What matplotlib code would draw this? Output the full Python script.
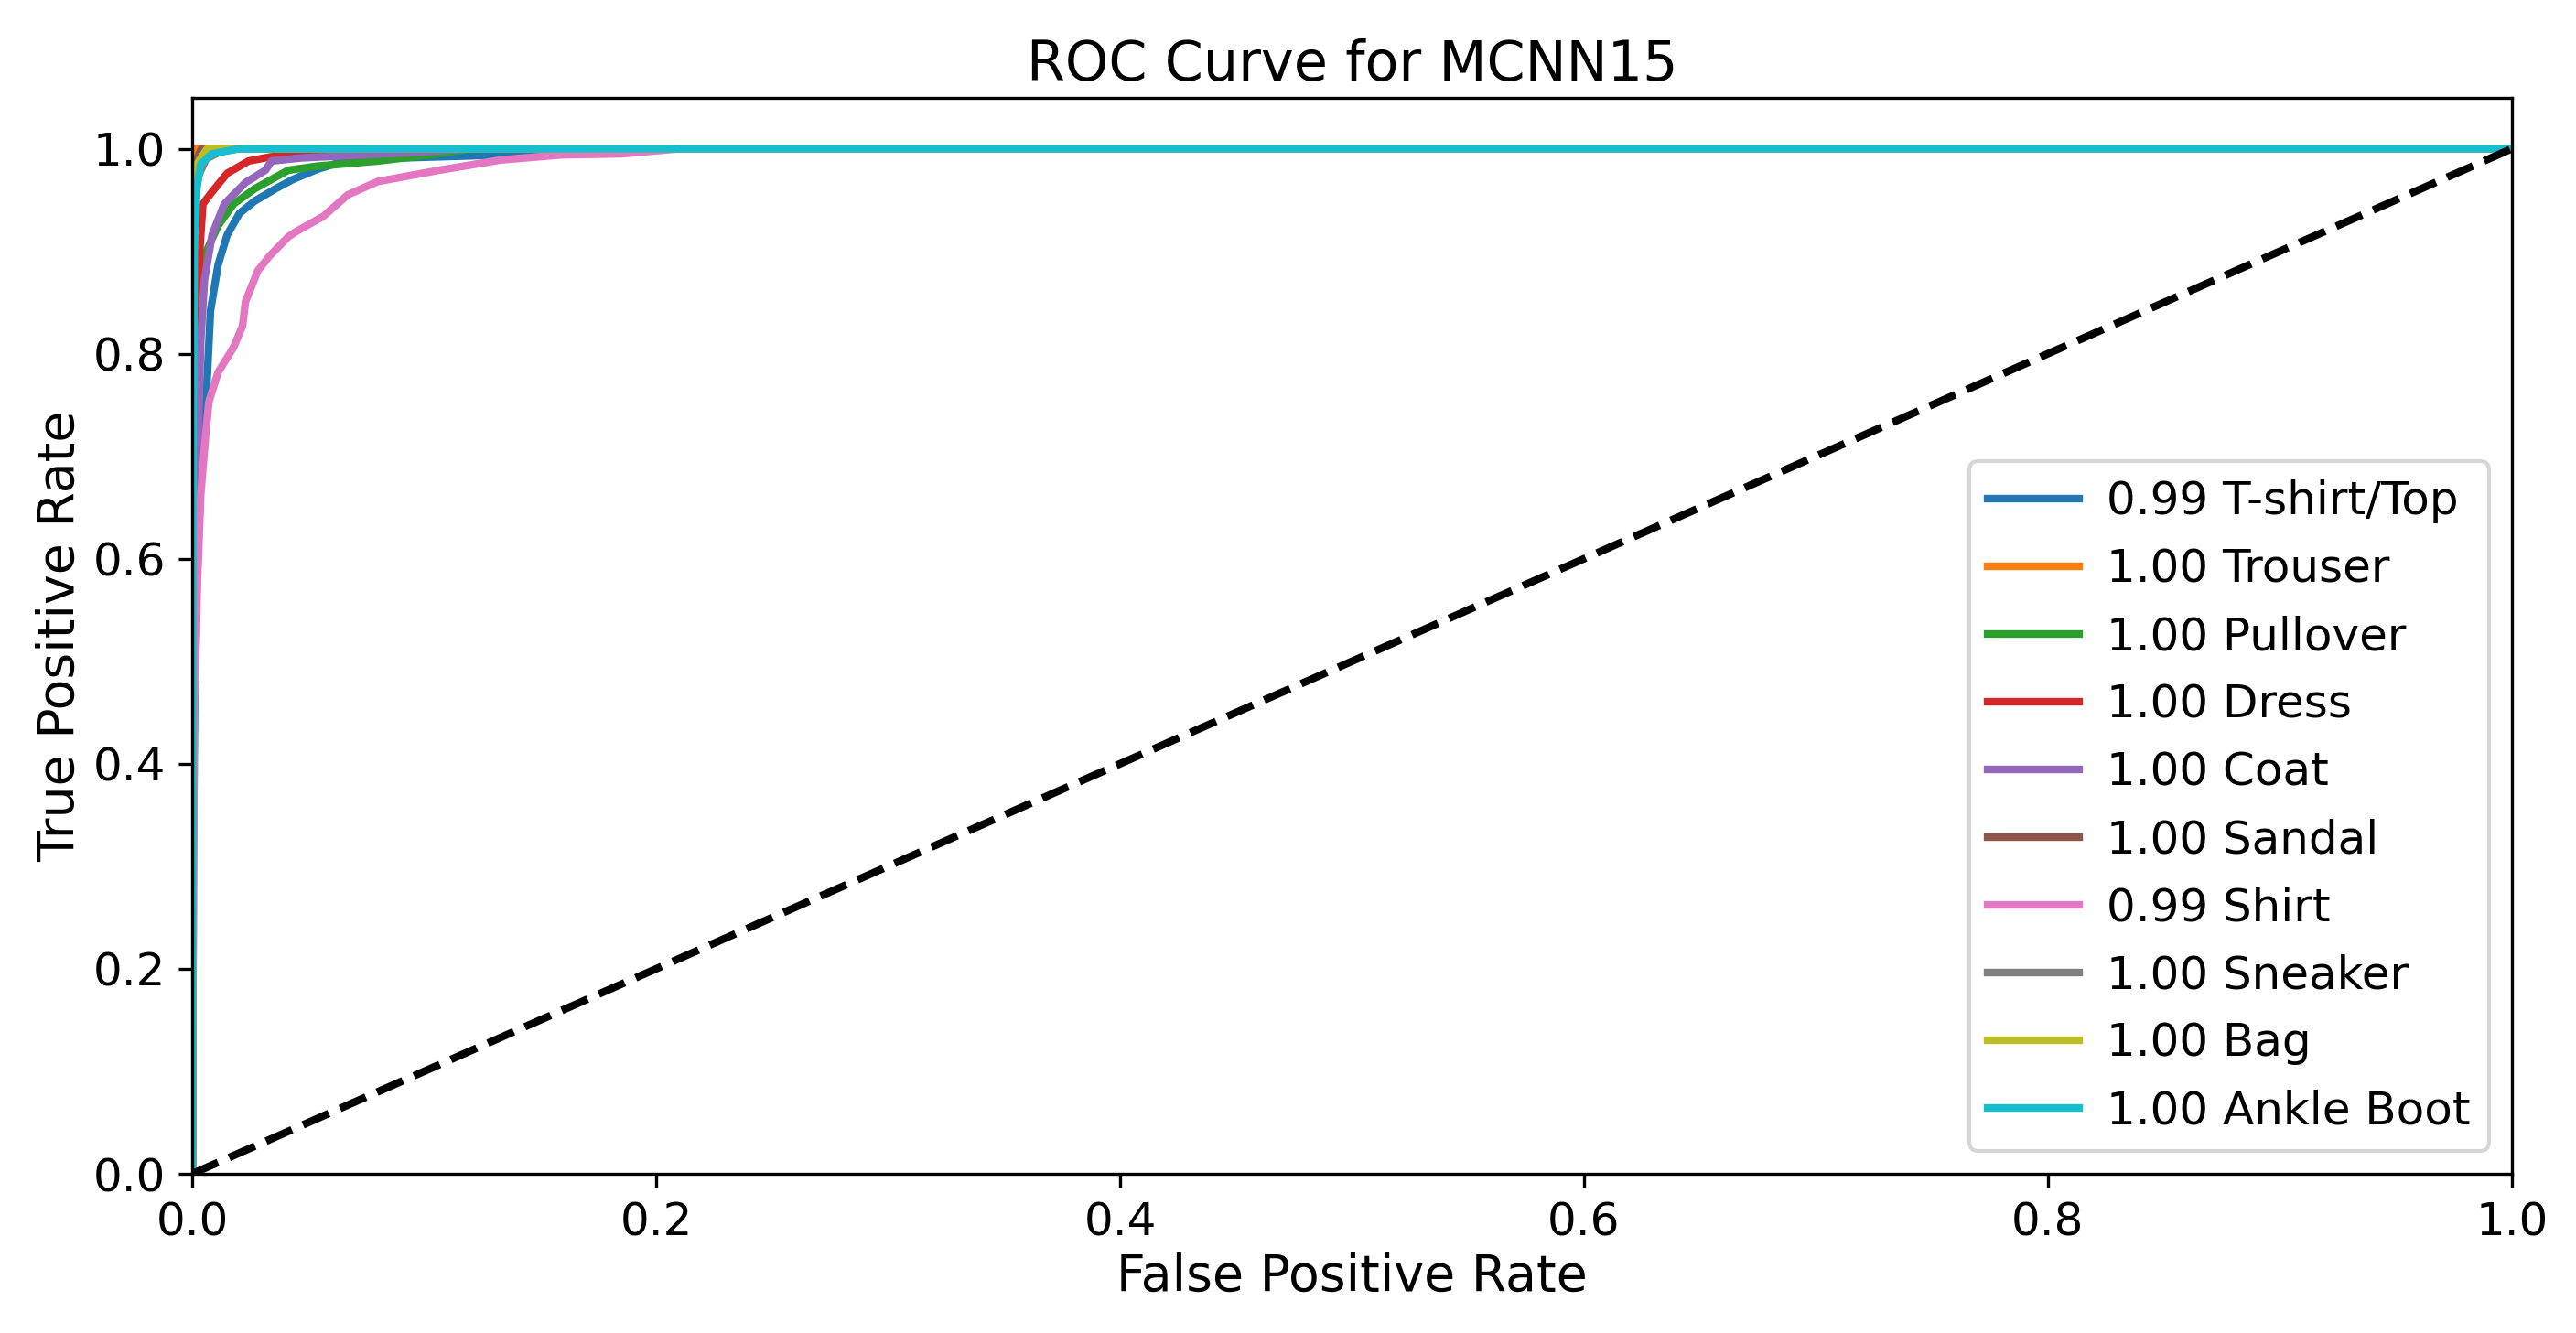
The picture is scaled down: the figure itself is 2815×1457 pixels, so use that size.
import matplotlib
matplotlib.use('Agg')
import matplotlib.pyplot as plt

# class names and AUC values shown in the legend
classNames = ['T-shirt/Top', 'Trouser', 'Pullover', 'Dress', 'Coat',
              'Sandal', 'Shirt', 'Sneaker', 'Bag', 'Ankle Boot']
aucs = [0.99, 1.00, 1.00, 1.00, 1.00, 1.00, 0.99, 1.00, 1.00, 1.00]

# ROC points, one pair of lists per class
fprTshirt = [0, 0.0005, 0.001, 0.002, 0.0037, 0.0053, 0.0066, 0.0079, 0.0112, 0.0151, 0.0204,
             0.027, 0.036, 0.0434, 0.054, 0.067, 0.09, 0.12, 0.146, 0.16, 1.0]
tprTshirt = [0, 0.3, 0.45, 0.574, 0.68, 0.723, 0.782, 0.842, 0.887, 0.916, 0.937,
             0.949, 0.961, 0.970, 0.980, 0.989, 0.991, 0.993, 0.995, 1.0, 1.0]

fprTrouser = [0, 0.0002, 0.0006, 0.0012, 1.0]
tprTrouser = [0, 0.9, 0.98, 1.0, 1.0]

fprPullover = [0, 0.0005, 0.0015, 0.0037, 0.0053, 0.0112, 0.0178, 0.027, 0.0414, 0.054,
               0.080, 0.1026, 0.12, 1.0]
tprPullover = [0, 0.5, 0.7, 0.842, 0.896, 0.925, 0.946, 0.961, 0.979, 0.983,
               0.988, 0.994, 1.0, 1.0]

fprDress = [0, 0.0005, 0.0015, 0.0022, 0.0033, 0.0046, 0.0086, 0.0151, 0.0243, 0.0336,
            0.0414, 0.067, 0.08, 1.0]
tprDress = [0, 0.5, 0.7, 0.8125, 0.902, 0.946, 0.958, 0.976, 0.988, 0.992,
            0.994, 0.995, 1.0, 1.0]

fprCoat = [0, 0.0005, 0.0015, 0.0026, 0.0037, 0.0053, 0.0086, 0.0138, 0.023, 0.0316,
           0.0342, 0.047, 0.0736, 0.10, 0.12, 1.0]
tprCoat = [0, 0.45, 0.62, 0.723, 0.8125, 0.872, 0.916, 0.946, 0.967, 0.979,
           0.988, 0.991, 0.994, 0.997, 1.0, 1.0]

fprSandal = [0, 0.0003, 0.001, 0.002, 0.004, 1.0]
tprSandal = [0, 0.85, 0.95, 0.99, 1.0, 1.0]

fprShirt = [0, 0.0008, 0.0015, 0.0022, 0.0037, 0.0059, 0.0072, 0.0112, 0.0178, 0.0217,
            0.023, 0.0283, 0.0336, 0.0414, 0.0447, 0.0565, 0.0671, 0.080, 0.1065, 0.133,
            0.159, 0.185, 0.21, 1.0]
tprShirt = [0, 0.45, 0.50, 0.574, 0.663, 0.723, 0.753, 0.782, 0.806, 0.827,
            0.851, 0.881, 0.896, 0.914, 0.919, 0.934, 0.955, 0.968, 0.979, 0.989,
            0.994, 0.995, 1.0, 1.0]

fprSneaker = [0, 0.0003, 0.0005, 0.002, 0.006, 0.012, 0.02, 1.0]
tprSneaker = [0, 0.8, 0.92, 0.97, 0.99, 0.997, 1.0, 1.0]

fprBag = [0, 0.0002, 0.0004, 0.002, 0.0065, 1.0]
tprBag = [0, 0.9, 0.96, 0.985, 1.0, 1.0]

fprBoot = [0, 0.0003, 0.0009, 0.002, 0.0037, 0.0086, 0.02, 1.0]
tprBoot = [0, 0.7, 0.90, 0.961, 0.985, 0.995, 1.0, 1.0]

allFpr = [fprTshirt, fprTrouser, fprPullover, fprDress, fprCoat,
          fprSandal, fprShirt, fprSneaker, fprBag, fprBoot]
allTpr = [tprTshirt, tprTrouser, tprPullover, tprDress, tprCoat,
          tprSandal, tprShirt, tprSneaker, tprBag, tprBoot]

plt.rcParams['font.size'] = 12

fig = plt.figure(figsize=(2815/300, 1457/300), dpi=300)
ax = fig.add_axes((0.0746, 0.1194, 0.9005, 0.8075))

for i in range(len(classNames)):
    ax.plot(allFpr[i], allTpr[i], lw=2, label='%.2f %s' % (aucs[i], classNames[i]))

ax.plot([0, 1], [0, 1], 'k--', lw=2)
ax.set_xlim(0.0, 1.0)
ax.set_ylim(0.0, 1.05)
ax.set_xlabel('False Positive Rate', fontsize=13.3, labelpad=2)
ax.set_ylabel('True Positive Rate', fontsize=13.3, labelpad=2)
ax.set_title('ROC Curve for MCNN15', fontsize=14.5, pad=4.5)
ax.legend(loc='lower right', handletextpad=0.6, labelspacing=0.52)

plt.savefig('out.png', dpi=300)
